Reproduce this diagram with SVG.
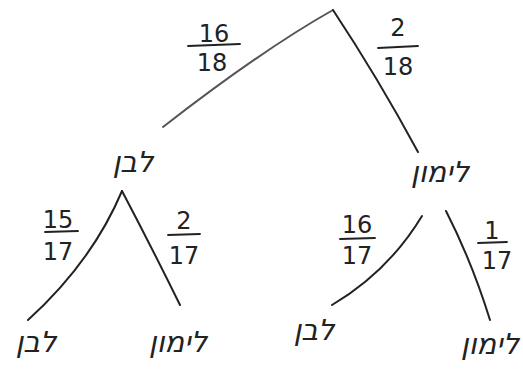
<svg xmlns="http://www.w3.org/2000/svg" width="523" height="376" viewBox="0 0 523 376">
  <style>
    .edge { fill: none; stroke: #222; stroke-width: 2; stroke-linecap: round; }
    .pencil { stroke: #555; }
    .bar { stroke: #222; stroke-width: 1.8; stroke-linecap: round; }
    .num { font-family: "DejaVu Sans", "Liberation Sans", sans-serif; font-size: 24px; fill: #222; text-anchor: middle; }
    .word { font-family: "DejaVu Sans", "Liberation Sans", sans-serif; font-size: 29px; fill: #222; text-anchor: middle; font-style: italic; }
  </style>
  <rect width="523" height="376" fill="#ffffff"/>
  <g id="connectors">
    <path class="edge pencil" d="M333,10 Q262,50 163,127"/>
    <path class="edge" d="M333,10 Q378,78 418,152"/>
    <path class="edge" d="M122,191 Q92,262 28,320"/>
    <path class="edge" d="M122,191 Q152,248 180,305"/>
    <path class="edge" d="M422,216 Q388,272 332,305"/>
    <path class="edge" d="M446,211 Q472,262 490,320"/>
    <g id="label-16-18">
      <text class="num" x="214" y="42">16</text>
      <line class="bar" x1="188" y1="46" x2="240" y2="44"/>
      <text class="num" x="212" y="71">18</text>
    </g>
    <g id="label-2-18">
      <text class="num" x="398" y="36">2</text>
      <line class="bar" x1="378" y1="48" x2="418" y2="46"/>
      <text class="num" x="398" y="75">18</text>
    </g>
    <g id="label-15-17">
      <text class="num" x="58" y="228">15</text>
      <line class="bar" x1="45" y1="232" x2="78" y2="231"/>
      <text class="num" x="58" y="260">17</text>
    </g>
    <g id="label-2-17">
      <text class="num" x="184" y="229">2</text>
      <line class="bar" x1="168" y1="235" x2="200" y2="234"/>
      <text class="num" x="184" y="264">17</text>
    </g>
    <g id="label-16-17">
      <text class="num" x="357" y="233">16</text>
      <line class="bar" x1="340" y1="239" x2="375" y2="238"/>
      <text class="num" x="357" y="264">17</text>
    </g>
    <g id="label-1-17">
      <text class="num" x="492" y="239">1</text>
      <line class="bar" x1="478" y1="243" x2="507" y2="242"/>
      <text class="num" x="497" y="269">17</text>
    </g>
  </g>
  <g id="node-level1-a"><text class="word" x="133" y="172">לבן</text></g>
  <g id="node-level1-b"><text class="word" x="440" y="182">לימון</text></g>
  <g id="node-level2-aa"><text class="word" x="36" y="352">לבן</text></g>
  <g id="node-level2-ab"><text class="word" x="178" y="352">לימון</text></g>
  <g id="node-level2-ba"><text class="word" x="314" y="340">לבן</text></g>
  <g id="node-level2-bb"><text class="word" x="490" y="354">לימון</text></g>
</svg>
